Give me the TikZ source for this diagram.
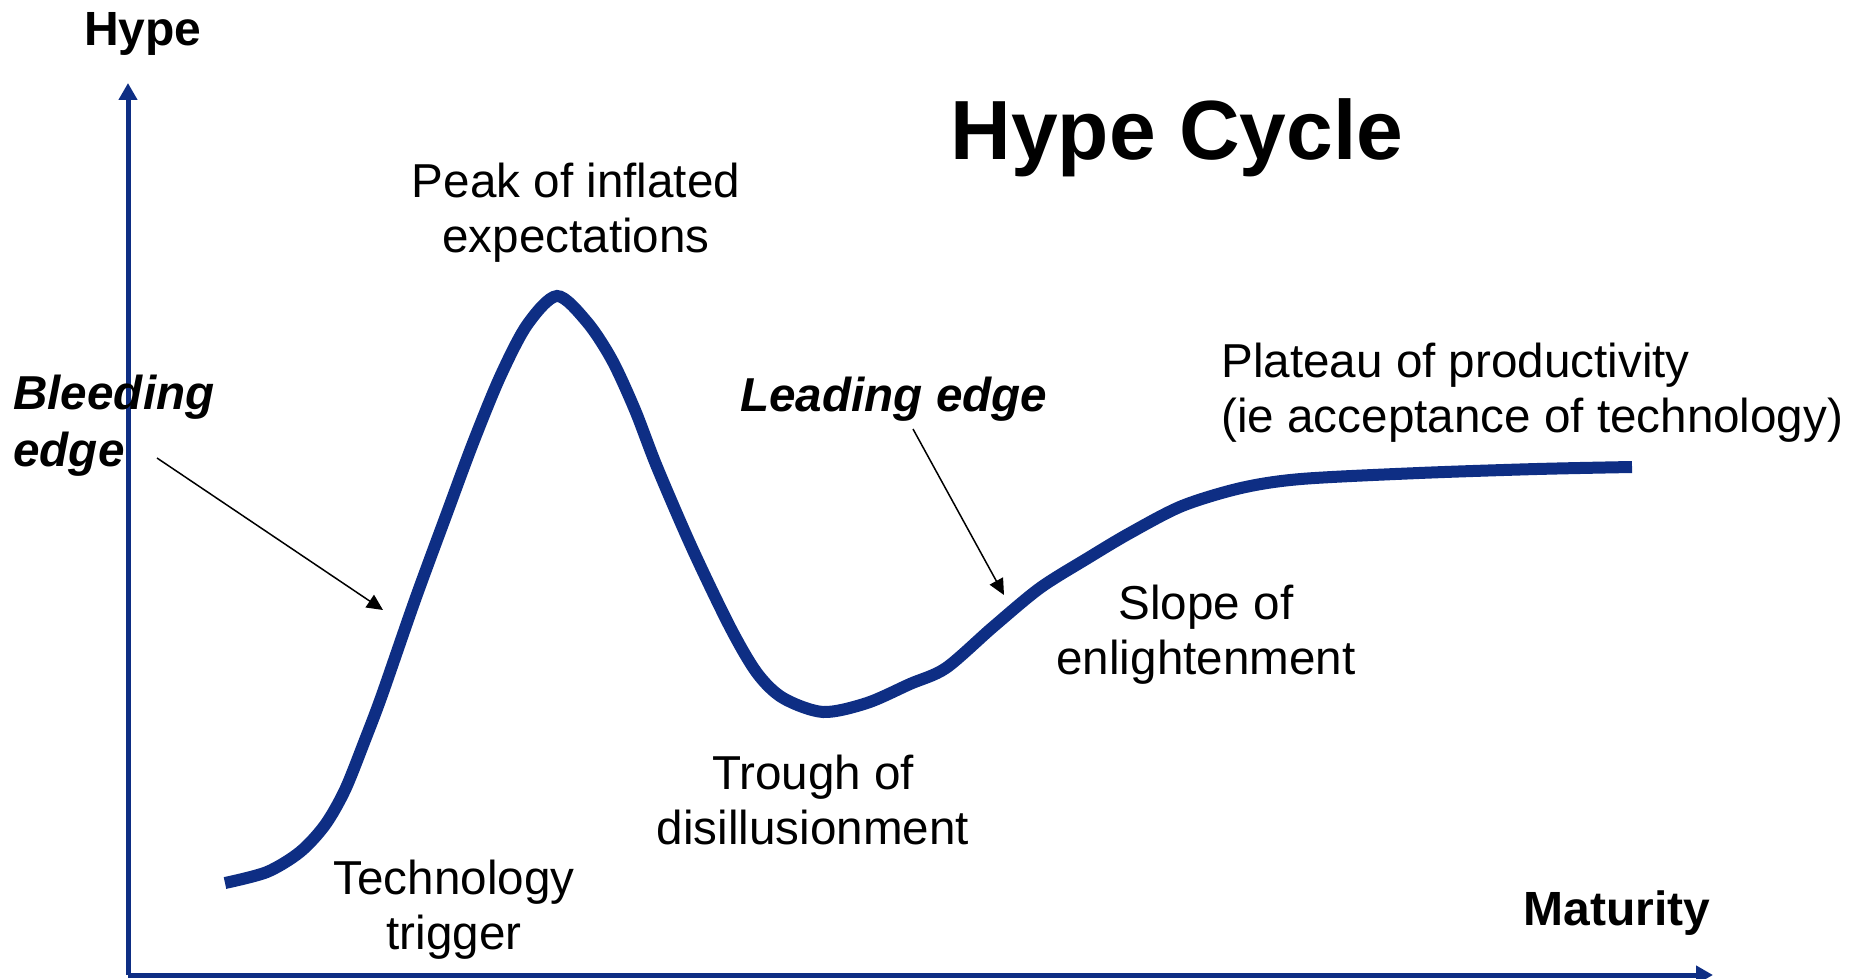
\documentclass[tikz,border=0pt]{standalone}
\usepackage{fontspec}
\setmainfont{Liberation Sans}
\usepackage{tikz}
\usetikzlibrary{arrows.meta}
\definecolor{hypeblue}{RGB}{14,46,132}

\begin{document}
\begin{tikzpicture}[x=0.5pt, y=-0.5pt,
  phase/.style={inner sep=0pt, align=center, font=\fontsize{23.8}{27.5}\selectfont},
  edgetag/.style={phase, align=left, font=\fontsize{23.8}{28.5}\selectfont\bfseries\itshape},
  axisname/.style={inner sep=0pt, font=\fontsize{24}{28}\selectfont\bfseries},
  heading/.style={inner sep=0pt, font=\fontsize{42}{48}\selectfont\bfseries},
  axis/.style={hypeblue, line width=2.5pt, -{Triangle[length=8.5pt,width=9pt]}},
  pointer/.style={line width=0.75pt, -{Triangle[length=8pt,width=7.5pt]}},
  hype/.style={hypeblue, line width=6pt}]
 \useasboundingbox (0,0) rectangle (1854,979);

 \coordinate (origin) at (128,975);
 \coordinate (ytip) at (128,83);
 \coordinate (xtip) at (1713,975);
 \draw[axis] (origin) -- (ytip);
 \draw[axis] (origin) -- (xtip);

 \node[axisname, anchor=north] (hype) at (143,12) {Hype};
 \node[axisname, anchor=north west] (maturity) at (1523,890) {Maturity};
 \node[heading, anchor=north west] (cycle) at (950,98) {Hype Cycle};

 \node[phase, anchor=north] (peak) at (576,163) {Peak of inflated\\expectations};
 \node[phase, anchor=north west, align=left] (plateau) at (1221,343) {Plateau of productivity\\(ie acceptance of technology)};
 \node[phase, anchor=north] (slope) at (1206,585) {Slope of\\enlightenment};
 \node[phase, anchor=north] (trough) at (813,755) {Trough of\\disillusionment};
 \node[phase, anchor=north] (trigger) at (454,860) {Technology\\trigger};
 \node[edgetag, anchor=north west] (bleeding) at (13,375) {Bleeding\\edge};
 \node[edgetag, anchor=north west] (leading) at (740,377) {Leading edge};

 \draw[hype] plot[smooth, tension=0.5] coordinates {
  (225,883) (267,872) (300,852) (325,825) (345,790) (365,740) (382,695)
  (415,600) (447,513) (473,443) (500,377) (527,325) (557,296) (587,322)
  (612,360) (635,410) (657,467) (692,548) (730,627) (757,673) (783,698)
  (823,712) (867,703) (910,684) (946,668) (993,627) (1040,588) (1088,558)
  (1130,533) (1182,506) (1241,488) (1301,479) (1419,473) (1537,469) (1632,467)};

 \coordinate (bleedfrom) at (157,458);
 \coordinate (bleedto) at (383,610);
 \coordinate (leadfrom) at (913,429);
 \coordinate (leadto) at (1004,595);
 \path[pointer]
  (bleedfrom) edge (bleedto)
  (leadfrom) edge (leadto);
\end{tikzpicture}
\end{document}
